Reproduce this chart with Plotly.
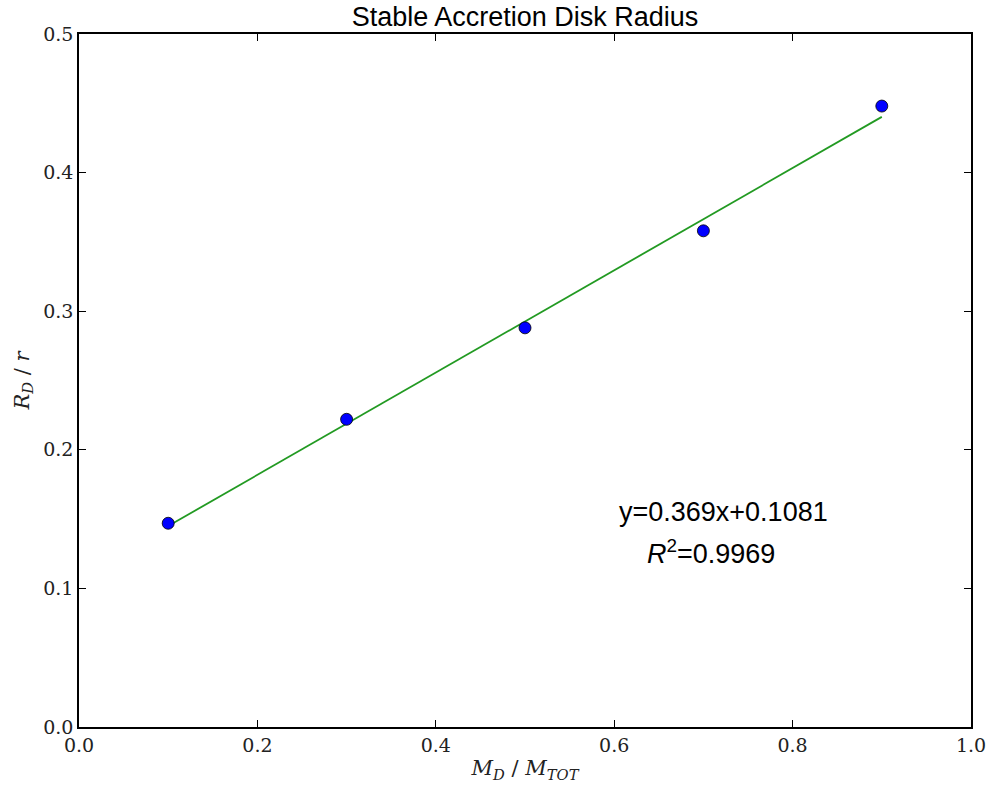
import plotly.graph_objects as go

x_vals = [0.1, 0.3, 0.5, 0.7, 0.9]
y_vals = [0.147, 0.222, 0.288, 0.358, 0.448]
fit_slope = 0.369
fit_intercept = 0.1081
fit_x = [0.1, 0.9]
fit_y = [fit_slope * v + fit_intercept for v in fit_x]
x_ticks = [0.0, 0.2, 0.4, 0.6, 0.8, 1.0]
y_ticks = [0.0, 0.1, 0.2, 0.3, 0.4, 0.5]

fig = go.Figure()
fig.add_trace(go.Scatter(x=fit_x, y=fit_y, mode="lines",
                         line=dict(color="#229a22", width=1.8), showlegend=False))
fig.add_trace(go.Scatter(x=x_vals, y=y_vals, mode="markers",
                         marker=dict(color="#0000ff", size=12,
                                     line=dict(color="#000000", width=0.8)),
                         showlegend=False))

serif = "DejaVu Serif, Liberation Serif, serif"
sans = "Liberation Sans, Arial, sans-serif"

axis_common = dict(showline=True, linecolor="black", linewidth=1.5, mirror="ticks",
                   ticks="inside", ticklen=7, tickwidth=1, tickcolor="black",
                   showgrid=False, zeroline=False, tickformat=".1f",
                   tickfont=dict(family=serif, size=19, color="#222"))

fig.update_xaxes(range=[0, 1], tickvals=x_ticks, **axis_common,
                 title=dict(text="<i>M</i><sub><i>D</i></sub> / <i>M</i><sub><i>TOT</i></sub>",
                            font=dict(family=serif, size=21, color="#222"), standoff=6))
fig.update_yaxes(range=[0, 0.5], tickvals=y_ticks, **axis_common,
                 title=dict(text="<i>R</i><sub><i>D</i></sub> / <i>r</i>",
                            font=dict(family=serif, size=21, color="#222"), standoff=8))

fig.add_annotation(x=0.722, y=0.155, xref="x", yref="y", showarrow=False,
                   text="y=0.369x+0.1081", font=dict(family=sans, size=27, color="black"))
fig.add_annotation(x=0.708, y=0.126, xref="x", yref="y", showarrow=False,
                   text="<i>R</i><sup>2</sup>=0.9969", font=dict(family=sans, size=27, color="black"))

fig.update_layout(
    width=992, height=787,
    margin=dict(l=79, r=21, t=34, b=60, autoexpand=False),
    paper_bgcolor="white", plot_bgcolor="white",
    title=dict(text="Stable Accretion Disk Radius", x=0.5, xanchor="center",
               xref="paper", y=0.979, yanchor="middle",
               font=dict(family=sans, size=27, color="black")),
)

fig.write_html("out.html", config={"displayModeBar": False},
               post_script="document.body.style.margin='0';document.body.style.overflow='hidden';")
